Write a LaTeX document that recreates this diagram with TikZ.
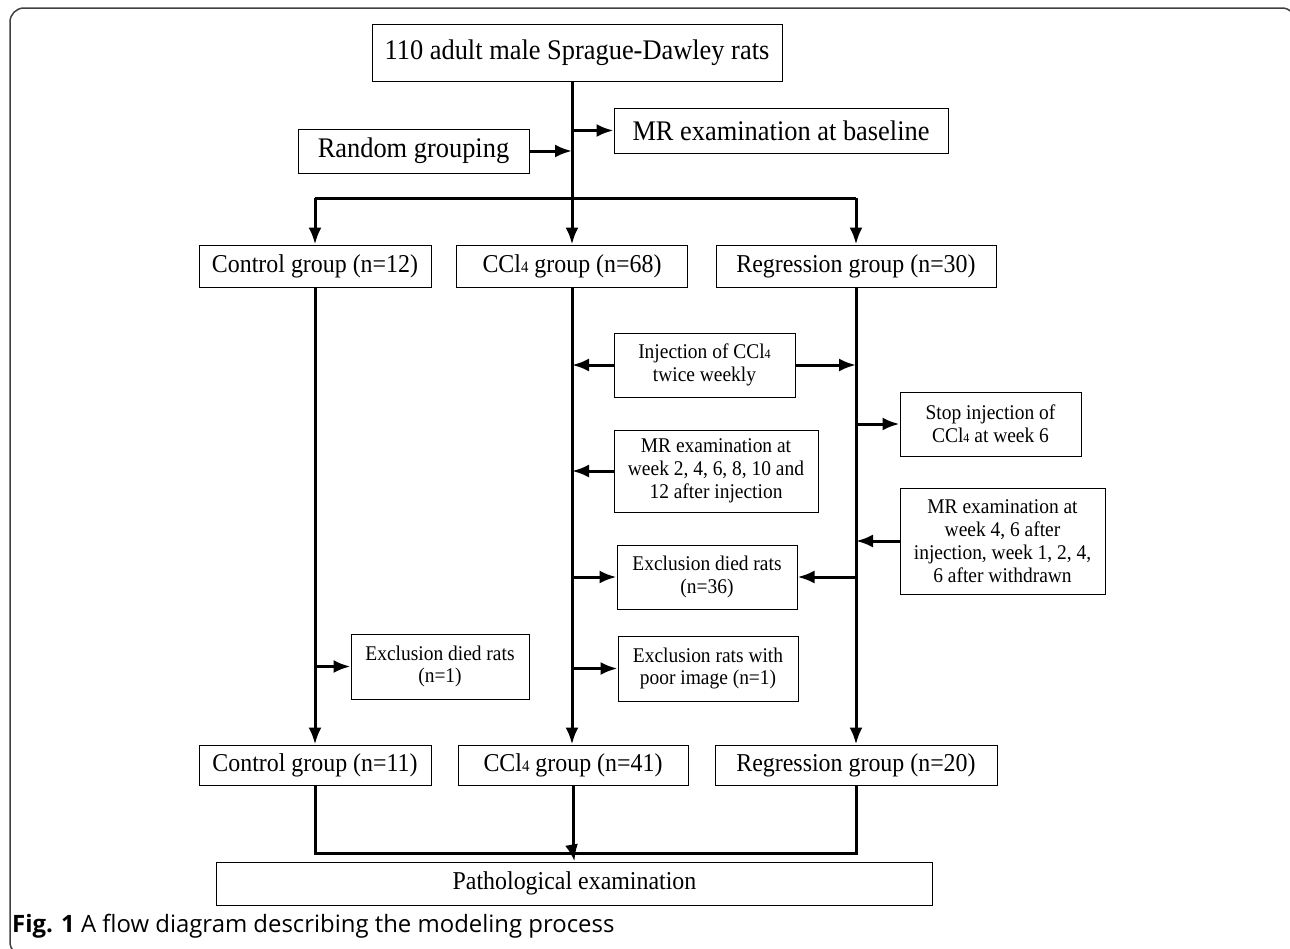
\documentclass[tikz,border=0pt]{standalone}
\usepackage{fontspec}
\setmainfont{Liberation Serif}[FakeStretch=0.93]
\newfontfamily\capfont{Open Sans}
\usetikzlibrary{arrows.meta}
\newcommand{\ccl}{CCl\scalebox{0.62}{4}}
\begin{document}
\begin{tikzpicture}[x=1bp,y=-1bp,
    box/.style={draw,line width=1bp,inner sep=0pt,align=center,font=\fontsize{25.8}{28}\selectfont},
    bigbox/.style={box,font=\fontsize{28.5}{30}\selectfont},
    smallbox/.style={box,font=\fontsize{21}{23}\selectfont},
    line/.style={line width=3bp},
    arr/.style={line,-{Latex[length=17bp,width=13bp]}}]
    \useasboundingbox (0,0) rectangle (1290,949);
    \draw[black!75,line width=1.5bp,rounded corners=14bp] (10,8) rectangle (1296,956);

    \node[bigbox,minimum width=410bp,minimum height=57bp] (top) at (577,52.5) {110 adult male Sprague-Dawley rats};
    \node[bigbox,minimum width=231bp,minimum height=44bp] (rand) at (413.5,151) {Random grouping};
    \node[bigbox,minimum width=334bp,minimum height=45bp] (base) at (781,130.5) {MR examination at baseline};
    \coordinate (split) at (572,198);

    \node[box,minimum width=232bp,minimum height=42bp] (c1) at (315,266) {Control group (n=12)};
    \node[box,minimum width=231bp,minimum height=42bp] (k1) at (572,266) {\ccl{} group (n=68)};
    \node[box,minimum width=280bp,minimum height=42bp] (r1) at (856,266) {Regression group (n=30)};

    \node[smallbox,minimum width=181bp,minimum height=64bp] (inj) at (704.5,365) {Injection of \ccl\\twice weekly};
    \node[smallbox,minimum width=204bp,minimum height=82bp] (mra) at (716,471) {MR examination at\\week 2, 4, 6, 8, 10 and\\12 after injection};
    \node[smallbox,minimum width=181bp,minimum height=64bp] (stop) at (990.5,424) {Stop injection of\\\ccl{} at week 6};
    \node[smallbox,minimum width=205bp,minimum height=106bp] (mrb) at (1002.5,541) {MR examination at\\week 4, 6 after\\injection, week 1, 2, 4,\\6 after withdrawn};
    \node[smallbox,minimum width=180bp,minimum height=64bp] (exk) at (707,577) {Exclusion died rats\\(n=36)};
    \node[smallbox,minimum width=180bp,minimum height=65bp] (exp) at (708,668.5) {Exclusion rats with\\poor image (n=1)};
    \node[smallbox,minimum width=178bp,minimum height=65bp] (exc) at (440,666.5) {Exclusion died rats\\(n=1)};

    \node[box,minimum width=232bp,minimum height=40bp] (c2) at (315,765) {Control group (n=11)};
    \node[box,minimum width=230bp,minimum height=40bp] (k2) at (573,765) {\ccl{} group (n=41)};
    \node[box,minimum width=282bp,minimum height=40bp] (r2) at (856,765) {Regression group (n=20)};
    \coordinate (merge) at (573,853);
    \node[box,minimum width=715bp,minimum height=43bp] (path) at (574.5,883.5) {Pathological examination};

    \node[anchor=west,inner sep=0pt,font=\capfont\fontsize{24}{28}\selectfont] (cap) at (12,926)
        {\textbf{Fig. 1} A flow diagram describing the modeling process};

    \draw[line] (top.south -| split) -- (split);
    \draw[arr] (rand.east) -- (rand.east -| split);
    \draw[arr] (base.west -| split) -- (base.west);
    \draw[line] (split -| c1) -- (split -| r1);
    \draw[arr] (split -| c1) -- (c1.north);
    \draw[arr] (split) -- (k1.north);
    \draw[arr] (split -| r1) -- (r1.north);

    \draw[arr] (c1.south) -- (c2.north);
    \draw[arr] (k1.south) -- (k1.south |- k2.north);
    \draw[arr] (r1.south) -- (r2.north);

    \draw[arr] (inj.west) -- (inj.west -| k1);
    \draw[arr] (inj.east) -- (inj.east -| r1);
    \draw[arr] (mra.west) -- (mra.west -| k1);
    \draw[arr] (stop.west -| r1) -- (stop.west);
    \draw[arr] (mrb.west) -- (mrb.west -| r1);
    \draw[arr] (exk.west -| k1) -- (exk.west);
    \draw[arr] (exk.east -| r1) -- (exk.east);
    \draw[arr] (exp.west -| k1) -- (exp.west);
    \draw[arr] (exc.west -| c1) -- (exc.west);

    \draw[line] (c2.south) |- (merge) -| (r2.south);
    \draw[line] (k2.south) -- (merge);
    \draw[arr] (merge) -- (path.north);
\end{tikzpicture}
\end{document}
